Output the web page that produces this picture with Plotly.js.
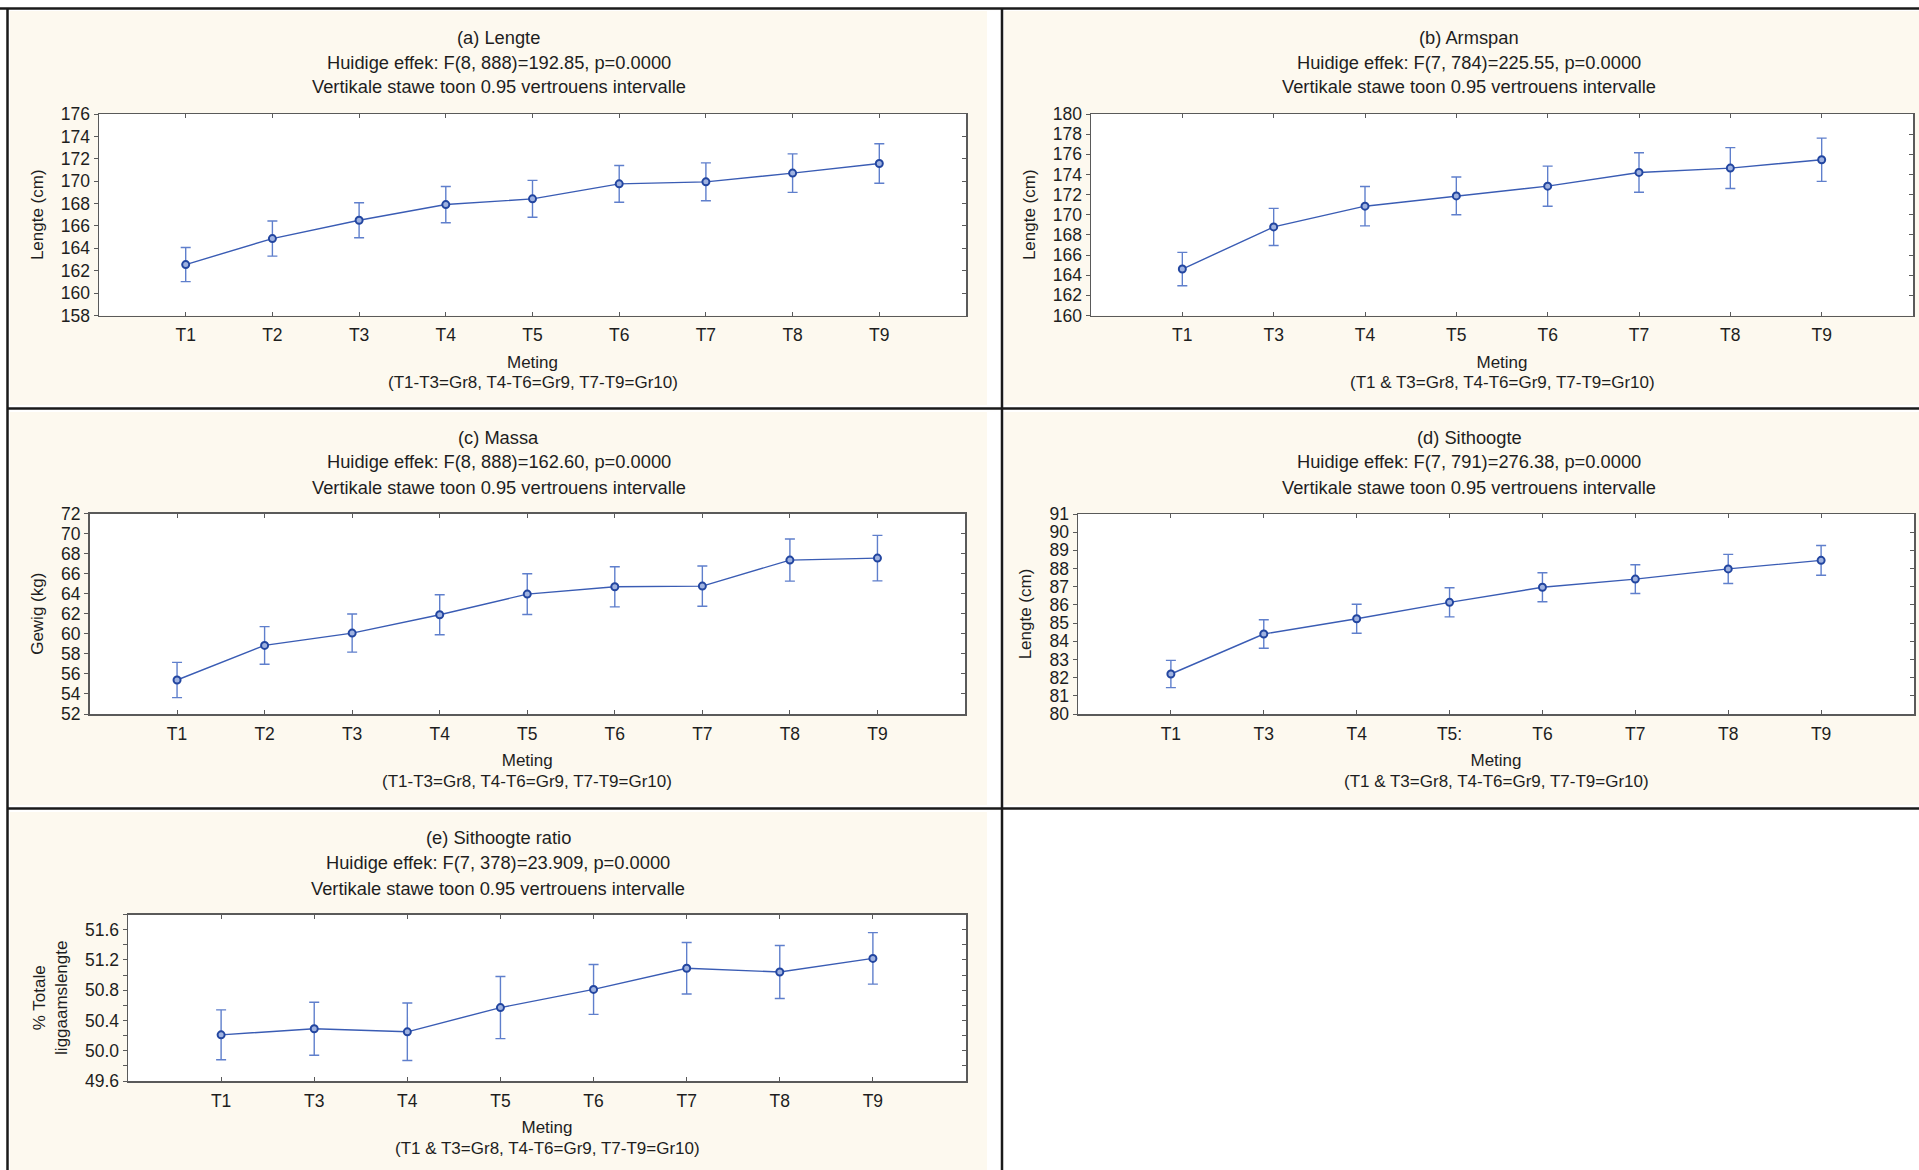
<!DOCTYPE html>
<html>
<head>
<meta charset="utf-8">
<script src="https://cdn.plot.ly/plotly-3.0.1.min.js"></script>
<style>
  html, body { margin: 0; padding: 0; background: #ffffff; }
  #chart { width: 1919px; height: 1170px; }
</style>
</head>
<body>
<div id="chart"></div>
<script>
// ---------------- DATA ----------------
const catsNine   = ['T1', 'T2', 'T3', 'T4', 'T5', 'T6', 'T7', 'T8', 'T9'];
const catsEight  = ['T1', 'T3', 'T4', 'T5', 'T6', 'T7', 'T8', 'T9'];
const catsEightD = ['T1', 'T3', 'T4', 'T5:', 'T6', 'T7', 'T8', 'T9'];

const lengteMean = [162.55, 164.87, 166.51, 167.91, 168.42, 169.76, 169.94, 170.72, 171.58];
const lengteCi   = [1.52, 1.57, 1.56, 1.62, 1.65, 1.64, 1.69, 1.72, 1.76];

const armspanMean = [164.61, 168.79, 170.85, 171.87, 172.84, 174.20, 174.63, 175.46];
const armspanCi   = [1.66, 1.84, 1.95, 1.87, 1.99, 1.96, 2.03, 2.15];

const massaMean = [55.39, 58.84, 60.07, 61.90, 63.96, 64.69, 64.76, 67.35, 67.55];
const massaCi   = [1.76, 1.88, 1.90, 2.00, 2.03, 2.00, 2.01, 2.10, 2.27];

const sithoogteMean = [82.20, 84.40, 85.24, 86.14, 86.97, 87.42, 87.98, 88.45];
const sithoogteCi   = [0.75, 0.78, 0.80, 0.80, 0.80, 0.79, 0.80, 0.82];

const ratioMean = [50.21, 50.29, 50.25, 50.57, 50.81, 51.09, 51.04, 51.22];
const ratioCi   = [0.33, 0.35, 0.38, 0.41, 0.33, 0.34, 0.35, 0.34];

const titlesA = ['(a) Lengte', 'Huidige effek: F(8, 888)=192.85, p=0.0000', 'Vertikale stawe toon 0.95 vertrouens intervalle'];
const titlesB = ['(b) Armspan', 'Huidige effek: F(7, 784)=225.55, p=0.0000', 'Vertikale stawe toon 0.95 vertrouens intervalle'];
const titlesC = ['(c) Massa', 'Huidige effek: F(8, 888)=162.60, p=0.0000', 'Vertikale stawe toon 0.95 vertrouens intervalle'];
const titlesD = ['(d) Sithoogte', 'Huidige effek: F(7, 791)=276.38, p=0.0000', 'Vertikale stawe toon 0.95 vertrouens intervalle'];
const titlesE = ['(e) Sithoogte ratio', 'Huidige effek: F(7, 378)=23.909, p=0.0000', 'Vertikale stawe toon 0.95 vertrouens intervalle'];

const xTitleMain  = 'Meting';
const xNoteNine   = '(T1-T3=Gr8, T4-T6=Gr9, T7-T9=Gr10)';
const xNoteEight  = '(T1 & T3=Gr8, T4-T6=Gr9, T7-T9=Gr10)';

// ---------------- LAYOUT HELPERS ----------------
const W = 1919, H = 1170;
const fx = v => v / W;
const fy = v => 1 - v / H;
const FONT = 'Arial, "Liberation Sans", sans-serif';
const TXT = '#1e1e1e';
const AXC = '#5a5a5a';
const LINEC = '#3a5cb4';
const BARC = '#5f7fcc';
const MARKC = '#2346a0';
const CREAM = '#fdf9ef';
const TICKSIZE = 17.5;
const TITLESIZE = 18.3;

const panels = [
  { cats: catsNine,   mean: lengteMean,    ci: lengteCi,    titles: titlesA, tx: 499,  ty: [37, 62, 87], noteY: 383,
    px: [99, 966],    py: [114, 315.5], yr: [158, 176], dtick: 2, ytitle: 'Lengte (cm)', note: xNoteNine,  fmt: '' },
  { cats: catsEight,  mean: armspanMean,   ci: armspanCi,   titles: titlesB, tx: 1469, ty: [37, 62, 87], noteY: 383,
    px: [1091, 1913], py: [114, 315.5], yr: [160, 180], dtick: 2, ytitle: 'Lengte (cm)', note: xNoteEight, fmt: '' },
  { cats: catsNine,   mean: massaMean,     ci: massaCi,     titles: titlesC, tx: 499,  ty: [437, 462, 487], noteY: 781,
    px: [89.5, 965],  py: [513.5, 714], yr: [52, 72], dtick: 2, ytitle: 'Gewig (kg)', note: xNoteNine,  fmt: '' },
  { cats: catsEightD, mean: sithoogteMean, ci: sithoogteCi, titles: titlesD, tx: 1469, ty: [437, 462, 487], noteY: 781,
    px: [1078, 1914], py: [514, 714], yr: [80, 91], dtick: 1, ytitle: 'Lengte (cm)', note: xNoteEight, fmt: '' },
  { cats: catsEight,  mean: ratioMean,     ci: ratioCi,     titles: titlesE, tx: 498,  ty: [837, 862, 888], noteY: 1148,
    px: [128, 966],   py: [914.5, 1081], yr: [49.6, 51.8], dtick: 0.4, ytitle: '% Totale<br>liggaamslengte', note: xNoteEight, fmt: '.1f', minor: 0.2 }
];

const data = [];
const layout = {
  width: W, height: H,
  margin: { l: 0, r: 0, t: 0, b: 0 },
  paper_bgcolor: '#ffffff',
  plot_bgcolor: 'rgba(0,0,0,0)',
  font: { family: FONT, color: TXT, size: 17 },
  showlegend: false,
  shapes: [],
  annotations: []
};

// cream panel backgrounds
const creams = [
  [10, 11, 987, 405], [1004, 11, 1919, 405],
  [10, 412, 987, 805], [1004, 412, 1919, 805],
  [10, 812, 987, 1170]
];
creams.forEach(r => layout.shapes.push({
  type: 'rect', xref: 'paper', yref: 'paper', layer: 'below',
  x0: fx(r[0]), x1: fx(r[2]), y0: fy(r[3]), y1: fy(r[1]),
  fillcolor: CREAM, line: { width: 0 }
}));

panels.forEach((p, i) => {
  const k = i === 0 ? '' : String(i + 1);
  const kr = String(i + 6); // overlay axis for right-side inner ticks
  const xa = 'xaxis' + k, ya = 'yaxis' + k;
  const n = p.cats.length;

  // white plot area
  layout.shapes.push({
    type: 'rect', xref: 'paper', yref: 'paper', layer: 'below',
    x0: fx(p.px[0]), x1: fx(p.px[1]), y0: fy(p.py[1]), y1: fy(p.py[0]),
    fillcolor: '#ffffff', line: { width: 0 }
  });

  layout[xa] = {
    domain: [fx(p.px[0]), fx(p.px[1])],
    anchor: 'y' + k,
    type: 'category',
    range: [-1, n],
    showline: true, mirror: 'ticks', linecolor: AXC, linewidth: 1.5,
    ticks: 'inside', ticklen: 4, tickcolor: AXC, tickwidth: 1,
    ticklabelstandoff: 3,
    tickfont: { family: FONT, size: TICKSIZE, color: TXT },
    showgrid: false, zeroline: false, fixedrange: true,
    title: { text: xTitleMain, font: { family: FONT, size: 17, color: TXT }, standoff: 11.5 }
  };
  const yax = {
    domain: [fy(p.py[1]), fy(p.py[0])],
    anchor: 'x' + k,
    range: p.yr,
    tick0: p.yr[0], dtick: p.dtick,
    showline: true, mirror: true, linecolor: AXC, linewidth: 1.5,
    ticks: 'outside', ticklen: 4, tickcolor: AXC, tickwidth: 1,
    tickfont: { family: FONT, size: TICKSIZE, color: TXT },
    showgrid: false, zeroline: false, fixedrange: true,
    title: { text: p.ytitle, font: { family: FONT, size: 17, color: TXT }, standoff: 13 }
  };
  if (p.fmt) yax.tickformat = p.fmt;
  if (p.minor) yax.minor = { dtick: p.minor, tick0: p.yr[0], ticks: 'outside', ticklen: 4, tickcolor: AXC, showgrid: false };
  layout[ya] = yax;

  // right-hand inner ticks (same scale, no labels)
  const yr = {
    overlaying: 'y' + k, anchor: 'x' + k, side: 'right',
    range: p.yr, tick0: p.yr[0], dtick: p.dtick,
    showline: false, ticks: 'inside', ticklen: 4, tickcolor: AXC, tickwidth: 1,
    showticklabels: false, showgrid: false, zeroline: false, fixedrange: true
  };
  if (p.minor) yr.minor = { dtick: p.minor, tick0: p.yr[0], ticks: 'inside', ticklen: 4, tickcolor: AXC, showgrid: false };
  layout['yaxis' + kr] = yr;

  data.push({
    type: 'scatter', mode: 'lines+markers',
    x: p.cats, y: p.mean,
    xaxis: 'x' + k, yaxis: 'y' + k,
    line: { color: LINEC, width: 1.4 },
    marker: { symbol: 'circle', size: 7, color: '#9fb2e0', line: { color: MARKC, width: 2 } },
    error_y: { type: 'data', array: p.ci, visible: true, color: BARC, thickness: 1.4, width: 5 },
    hoverinfo: 'x+y', cliponaxis: false
  });
  // invisible trace so the overlay axis is drawn
  data.push({
    type: 'scatter', mode: 'markers', x: [p.cats[0]], y: [p.mean[0]],
    xaxis: 'x' + k, yaxis: 'y' + kr, marker: { opacity: 0 }, hoverinfo: 'skip'
  });

  p.titles.forEach((t, j) => layout.annotations.push({
    xref: 'paper', yref: 'paper', x: fx(p.tx), y: fy(p.ty[j]),
    xanchor: 'center', yanchor: 'middle', showarrow: false, align: 'center',
    text: t,
    font: { family: FONT, size: TITLESIZE, color: TXT }
  }));
  layout.annotations.push({
    xref: 'paper', yref: 'paper', x: fx((p.px[0] + p.px[1]) / 2), y: fy(p.noteY),
    xanchor: 'center', yanchor: 'middle', showarrow: false,
    text: p.note,
    font: { family: FONT, size: 17, color: TXT }
  });
});

// black divider lines
const lineSpec = [
  [0, 8.5, W, 8.5],
  [7.5, 8.5, 7.5, H],
  [1002, 8.5, 1002, H],
  [7.5, 408.5, W, 408.5],
  [7.5, 808.5, W, 808.5]
];
lineSpec.forEach(l => layout.shapes.push({
  type: 'line', xref: 'paper', yref: 'paper', layer: 'above',
  x0: fx(l[0]), x1: fx(l[2]), y0: fy(l[1]), y1: fy(l[3]),
  line: { color: '#1a1a1a', width: 2.5 }
}));

Plotly.newPlot('chart', data, layout, { staticPlot: true, displayModeBar: false });
</script>
</body>
</html>
